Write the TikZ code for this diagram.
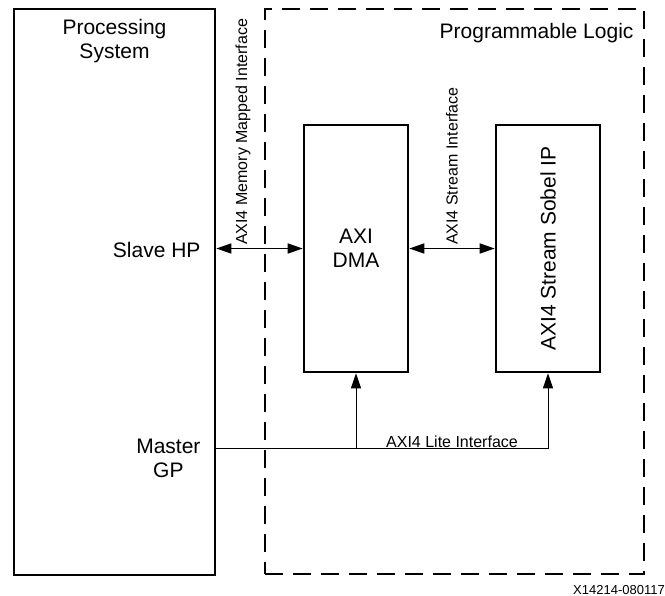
\documentclass[tikz,border=0pt]{standalone}
\usepackage{fontspec}
\setmainfont{Liberation Sans}
\usepackage{tikz}
\usetikzlibrary{arrows.meta,positioning,calc}

\begin{document}
\begin{tikzpicture}[x=1pt, y=-1pt, >={Triangle[length=15pt,width=10pt]},
    every node/.style={font=\fontsize{21}{24}\selectfont, align=center},
    blockbox/.style={draw, line width=2.6pt, inner sep=0pt},
    smalltext/.style={font=\fontsize{16}{19}\selectfont, inner sep=1pt},
    busline/.style={line width=1.5pt},
    liteline/.style={line width=1pt}]
  \useasboundingbox (0,0) rectangle (665,596);

  \node[blockbox, minimum width=201pt, minimum height=566pt] (ps) at (114.5,292) {};
  \node[anchor=north] (pslabel) at (114.5,16) {Processing\\System};
  \node[draw, line width=2.6pt, dash pattern=on 18pt off 10pt, minimum width=379pt, minimum height=565pt] (pl) at (454.5,291.5) {};
  \node[anchor=east] (pllabel) at (637,33) {Programmable Logic};

  \node[blockbox, minimum width=104pt, minimum height=247pt] (dma) at (356,248.5) {AXI\\DMA};
  \node[blockbox, minimum width=104pt, minimum height=247pt] (sobel) at (548,248.5) {};
  \node[rotate=90] (sobellabel) at (sobel.center) {AXI4 Stream Sobel IP};

  \node[anchor=east] (slave) at (204,250) {Slave HP};
  \node[anchor=east] (master) at (204,458) {Master\\GP};
  \coordinate (gpport) at (215,449);

  % interfaces
  \draw[busline, <->] (dma.west -| ps.east) -- (dma.west);
  \draw[busline, <->] (dma.east) -- (sobel.west);
  \draw[liteline, ->] (gpport) -| (sobel.south);
  \draw[liteline, ->] (gpport -| dma.south) -- (dma.south);

  \node[smalltext, rotate=90, anchor=west] (mmlabel) at (243,246) {AXI4 Memory Mapped Interface};
  \node[smalltext, rotate=90, anchor=west] (stlabel) at (452,246) {AXI4 Stream Interface};
  \node[smalltext, anchor=south] (litelabel) at ($(gpport -| dma.south)!0.5!(gpport -| sobel.south)$) {AXI4 Lite Interface};

  \node[font=\fontsize{13}{15}\selectfont, anchor=south east, inner sep=0pt] (figid) at (665,595) {X14214-080117};
\end{tikzpicture}
\end{document}
